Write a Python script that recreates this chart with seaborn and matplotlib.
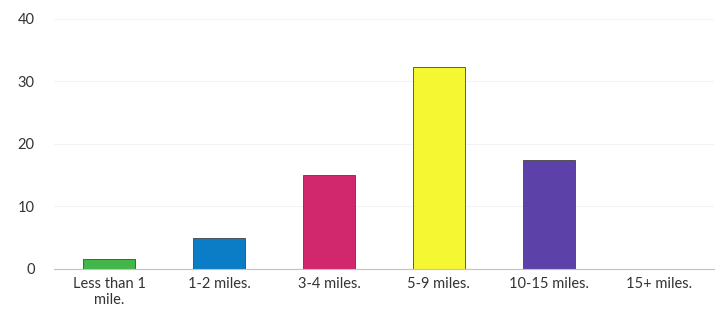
import pandas as pd
import matplotlib.pyplot as plt
import seaborn as sns

# Distance categories and values
categories = ['Less than 1\nmile.', '1-2 miles.', '3-4 miles.', '5-9 miles.', '10-15 miles.', '15+ miles.']
values = [1.6, 4.9, 15, 32.3, 17.4, 0]
colors = ['#43b649', '#0b7cc6', '#d1276c', '#f6f733', '#5b41a8', '#888888']
y_ticks = [0, 10, 20, 30, 40]

df = pd.DataFrame({'distance': categories, 'count': values})

sns.set_style('white')
plt.rcParams['font.family'] = ['Lato', 'DejaVu Sans']

fig = plt.figure(figsize=(7.21, 3.16), dpi=100)
ax = fig.add_axes([0.075, 0.149, 0.915, 0.791])

sns.barplot(
    data=df,
    x='distance',
    y='count',
    hue='distance',
    palette=colors,
    saturation=1,
    legend=False,
    width=0.47,
    edgecolor='#444444',
    linewidth=0.6,
    ax=ax
)

ax.set_xlim(-0.5, 5.5)
ax.set_ylim(0, 40)
ax.set_yticks(y_ticks)
ax.set_xlabel('')
ax.set_ylabel('')
ax.tick_params(axis='both', length=0, labelsize=10.5, colors='#333333', pad=6)
ax.tick_params(axis='y', pad=14)
ax.yaxis.grid(True, color='#f3f3f3', linewidth=0.8)
ax.set_axisbelow(True)
for side in ['top', 'right', 'left']:
    ax.spines[side].set_visible(False)
ax.spines['bottom'].set_color('#b8c4d0')
ax.spines['bottom'].set_linewidth(0.8)

plt.savefig('out.png', dpi=100)
plt.close()
